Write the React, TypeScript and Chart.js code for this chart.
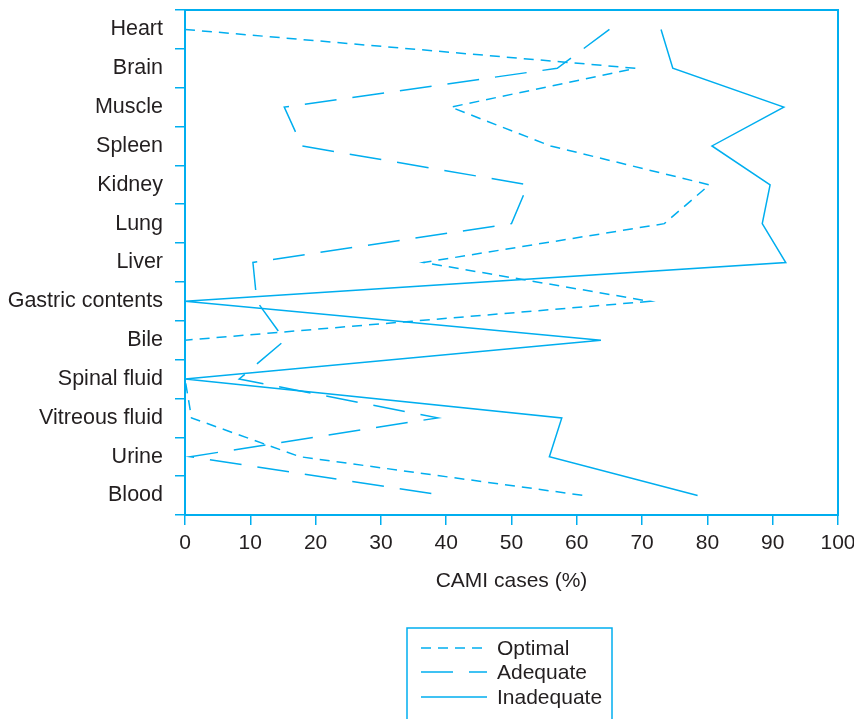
import React, { useEffect, useRef } from 'react';
import { Chart, registerables } from 'chart.js';

Chart.register(...registerables);

const categories = [
  'Heart', 'Brain', 'Muscle', 'Spleen', 'Kidney', 'Lung', 'Liver',
  'Gastric contents', 'Bile', 'Spinal fluid', 'Vitreous fluid', 'Urine', 'Blood',
];
const optimal = [0, 69, 40.7, 56, 80.3, 73.4, 36.5, 71.2, 0, 0, 1, 17.6, 61.2];
const adequate = [65, 57, 15.2, 17.9, 52.5, 50, 10.4, 11, 15.3, 8.3, 38.7, 0.8, 39.8];
const inadequate = [72.9, 74.7, 91.7, 80.7, 89.6, 88.4, 92, 0, 63.7, 0, 57.7, 55.8, 78.5];
const seriesNames = ['Optimal', 'Adequate', 'Inadequate'];
const xMin = 0;
const xMax = 100;
const xStep = 10;
const xTitle = 'CAMI cases (%)';

const BLUE = '#00AEEF';
const TEXT = '#231F20';
const FONT = "'Liberation Sans', Arial, Helvetica, sans-serif";

const frameAndLegend = {
  id: 'frameAndLegend',
  afterDraw(chart: any) {
    const { ctx, chartArea } = chart;
    ctx.save();
    ctx.strokeStyle = BLUE;
    ctx.lineWidth = 2;
    ctx.setLineDash([]);
    ctx.strokeRect(chartArea.left, chartArea.top, chartArea.right - chartArea.left, chartArea.bottom - chartArea.top);

    // legend box
    const bx = 407, by = 628, bw = 205, bh = 120;
    ctx.lineWidth = 1.5;
    ctx.strokeRect(bx, by, bw, bh);
    const rows = [648, 672, 697];
    chart.data.datasets.forEach((ds: any, i: number) => {
      const y = rows[i];
      ctx.beginPath();
      ctx.setLineDash(ds.borderDash || []);
      ctx.lineWidth = ds.borderWidth;
      ctx.strokeStyle = ds.borderColor;
      ctx.moveTo(bx + 14, y);
      ctx.lineTo(bx + 80, y);
      ctx.stroke();
      ctx.setLineDash([]);
      ctx.fillStyle = TEXT;
      ctx.font = `21px ${FONT}`;
      ctx.textBaseline = 'middle';
      ctx.textAlign = 'left';
      ctx.fillText(ds.label, bx + 90, y + 1);
    });
    ctx.restore();
  },
};

export default function App() {
  const ref = useRef<HTMLCanvasElement | null>(null);
  useEffect(() => {
    document.body.style.margin = '0';
    const canvas = ref.current;
    if (!canvas) return;
    const mk = (label: string, data: number[], dash: number[]) => ({
      label,
      data,
      borderColor: BLUE,
      backgroundColor: BLUE,
      borderWidth: 1.5,
      borderDash: dash,
      pointRadius: 0,
      pointHoverRadius: 0,
      tension: 0,
      fill: false,
    });
    const chart = new Chart(canvas, {
      type: 'line',
      data: {
        labels: categories,
        datasets: [
          mk(seriesNames[0], optimal, [10, 7]),
          mk(seriesNames[1], adequate, [32, 16]),
          mk(seriesNames[2], inadequate, []),
        ],
      },
      plugins: [frameAndLegend],
      options: {
        indexAxis: 'y',
        animation: false,
        responsive: false,
        maintainAspectRatio: false,
        layout: { padding: { top: 10, right: 16, left: 0, bottom: 0 } },
        plugins: {
          legend: { display: false },
          tooltip: { enabled: false },
        },
        scales: {
          x: {
            type: 'linear',
            min: xMin,
            max: xMax,
            ticks: {
              stepSize: xStep,
              color: TEXT,
              font: { family: FONT, size: 21 },
              padding: 6,
              maxRotation: 0,
            },
            grid: {
              display: true,
              drawOnChartArea: false,
              drawTicks: true,
              tickLength: 10,
              color: BLUE,
              lineWidth: 1.5,
            },
            border: { display: true, color: BLUE, width: 2 },
            title: {
              display: true,
              text: xTitle,
              color: TEXT,
              font: { family: FONT, size: 21 },
              padding: { top: 0, bottom: 125 },
            },
            afterFit(scale: any) {
              scale.height = 204;
              scale.paddingLeft = 0;
              scale.paddingRight = 0;
            },
          },
          y: {
            type: 'category',
            offset: true,
            ticks: {
              color: TEXT,
              font: { family: FONT, size: 21.5 },
              padding: 12,
            },
            grid: {
              display: true,
              offset: true,
              drawOnChartArea: false,
              drawTicks: true,
              tickLength: 10,
              color: BLUE,
              lineWidth: 1.5,
            },
            border: { display: true, color: BLUE, width: 2 },
            afterFit(scale: any) {
              scale.width = 185;
              scale.paddingTop = 0;
              scale.paddingBottom = 0;
            },
          },
        },
      } as any,
    });
    return () => chart.destroy();
  }, []);
  return (
    <div style={{ width: 854, height: 719 }}>
      <canvas ref={ref} width={854} height={719} style={{ display: 'block' }} />
    </div>
  );
}
